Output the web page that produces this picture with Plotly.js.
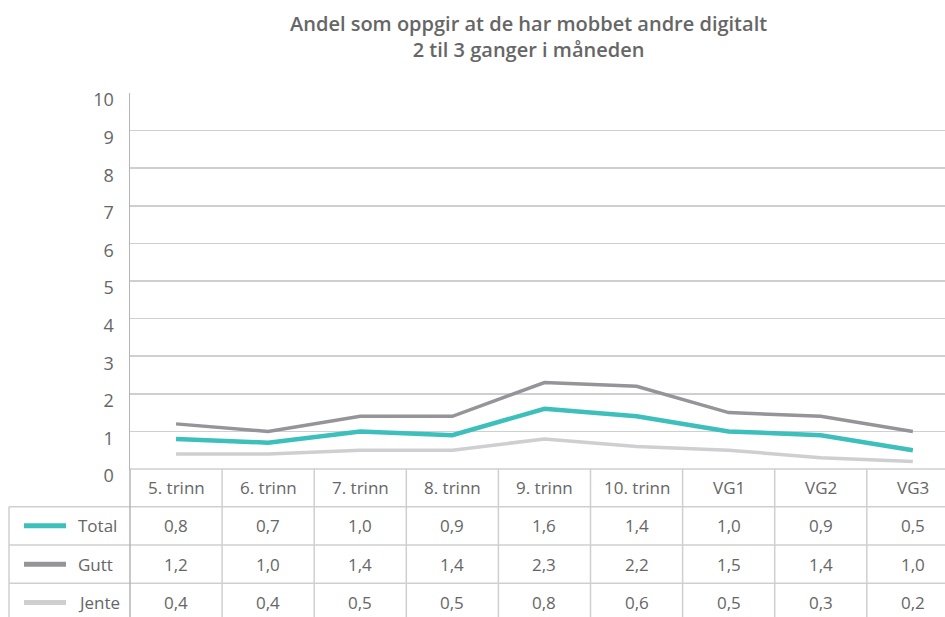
<!DOCTYPE html>
<html>
<head>
<meta charset="utf-8">
<script src="https://cdn.plot.ly/plotly-3.0.1.min.js"></script>
<style>html,body{margin:0;padding:0;background:#fff;}#chart{width:945px;height:617px;}</style>
</head>
<body>
<div id="chart"></div>
<script>
const categories = ["5. trinn","6. trinn","7. trinn","8. trinn","9. trinn","10. trinn","VG1","VG2","VG3"];
const seriesNames = ["Total","Gutt","Jente"];
const total = [0.8,0.7,1.0,0.9,1.6,1.4,1.0,0.9,0.5];
const gutt  = [1.2,1.0,1.4,1.4,2.3,2.2,1.5,1.4,1.0];
const jente = [0.4,0.4,0.5,0.5,0.8,0.6,0.5,0.3,0.2];
const yTicks = [0,1,2,3,4,5,6,7,8,9,10];
const titleText = 'Andel som oppgir at de har mobbet andre digitalt<br>2 til 3 ganger i måneden';

const W = 945, H = 617;
const mL = 130, mT = 93, mB = 148, mR = 0;
const plotH = H - mT - mB;         // 376
const plotW = W - mL - mR;         // 815
const colW = 92.1;                 // pixel width of a category column
const xMin = -0.5, xMax = -0.5 + plotW / colW;

const colors = ["#3dbfbb", "#949499", "#cfcfd2"];
const widths = [4.5, 3.5, 3.5];
const values = [total, gutt, jente];
const gridC = "#cfcfcf";
const textC = "#666666";
const font = "Open Sans, sans-serif";

function py(pix) { return (mT + plotH - pix) / plotH; }  // pixel y -> paper y
function px(pix) { return (pix - mL) / plotW; }          // pixel x -> paper x
function fmt(v) { return v.toFixed(1).replace('.', ','); }

const traces = values.map((v, i) => ({
  type: 'scatter', mode: 'lines', name: seriesNames[i],
  x: categories.map((c, k) => k), y: v,
  line: {color: colors[i], width: widths[i]},
  hoverinfo: 'skip', showlegend: false
})).reverse();

// table geometry (pixels)
const rowTop = [469, 506.7, 545, 583.3, 621.6];
const shapes = [];
const annotations = [];

// title
annotations.push({xref:'paper', yref:'paper', x:px(528), y:py(37), text:titleText, showarrow:false,
  xanchor:'center', yanchor:'middle', align:'center', font:{family:font, size:20, color:'#666666', weight:600}});

// header row labels
categories.forEach((c, k) => {
  annotations.push({xref:'x', yref:'paper', x:k, y:py((rowTop[0]+rowTop[1])/2), text:c,
    showarrow:false, xanchor:'center', yanchor:'middle', font:{family:font, size:17, color:textC}});
});
// data rows
values.forEach((v, r) => {
  const yc = py((rowTop[r+1] + rowTop[r+2]) / 2);
  v.forEach((val, k) => {
    annotations.push({xref:'x', yref:'paper', x:k, y:yc, text:fmt(val),
      showarrow:false, xanchor:'center', yanchor:'middle', font:{family:font, size:17, color:textC}});
  });
  // legend sample line
  shapes.push({type:'line', xref:'paper', yref:'paper', x0:px(24), x1:px(66), y0:yc, y1:yc,
    line:{color:colors[r], width:5}});
  annotations.push({xref:'paper', yref:'paper', x:px(76), y:yc, text:seriesNames[r],
    showarrow:false, xanchor:'left', yanchor:'middle', font:{family:font, size:17, color:textC}});
});
// horizontal table lines
for (let r = 1; r < rowTop.length - 1; r++) {
  shapes.push({type:'line', xref:'paper', yref:'paper', x0:px(9), x1:px(W+5), y0:py(rowTop[r]), y1:py(rowTop[r]),
    line:{color:gridC, width:1.5}});
}
shapes.push({type:'line', xref:'paper', yref:'paper', x0:0, x1:px(W+5), y0:py(rowTop[0]), y1:py(rowTop[0]),
  line:{color:gridC, width:1.5}});
// vertical table lines between categories
for (let k = 0; k < categories.length; k++) {
  shapes.push({type:'line', xref:'x', yref:'paper', x0:k+0.5, x1:k+0.5, y0:py(rowTop[0]), y1:py(H+5),
    line:{color:gridC, width:1.5}});
}
// left column borders
shapes.push({type:'line', xref:'paper', yref:'paper', x0:px(9), x1:px(9), y0:py(rowTop[1]), y1:py(H+5),
  line:{color:gridC, width:1.5}});
shapes.push({type:'line', xref:'paper', yref:'paper', x0:0, x1:0, y0:py(rowTop[0]), y1:py(H+5),
  line:{color:'#b5b5b5', width:1.5}});

const layout = {
  width: W, height: H,
  margin: {l:mL, r:mR, t:mT, b:mB, pad:0},
  paper_bgcolor:'#ffffff', plot_bgcolor:'#ffffff',
  xaxis: {range:[xMin, xMax], showgrid:false, zeroline:false, showticklabels:false, showline:false,
    ticks:'', fixedrange:true},
  yaxis: {range:[0,10], tickvals:yTicks, ticktext:yTicks.map(String), showgrid:true, gridcolor:gridC, gridwidth:1.5,
    zeroline:false, showline:true, linecolor:'#b5b5b5', linewidth:1.5, ticks:'', ticklabelstandoff:11,
    ticklabelshift:7, tickfont:{family:font, size:18, color:textC}, fixedrange:true},
  shapes: shapes,
  annotations: annotations,
  showlegend:false
};

Plotly.newPlot('chart', traces, layout, {displayModeBar:false, staticPlot:true});
</script>
</body>
</html>
